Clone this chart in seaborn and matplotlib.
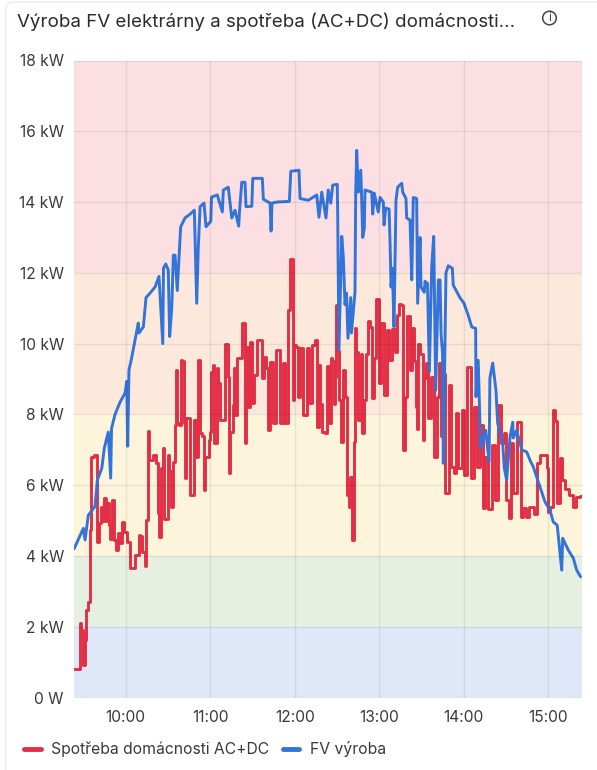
"""Vyroba FV elektrarny a spotreba domacnosti - prubeh dne"""

import pandas as pd
import seaborn as sns
import matplotlib.pyplot as plt
from matplotlib.patches import Circle, FancyBboxPatch

# cas v minutach od 9:00, hodnoty v kW
FV_MIN = [23.3, 29.9, 31.1, 33.4, 38.2, 39.8, 43, 44.8, 47.6, 49.3, 49.9, 52.4, 56, 59.5, 60.7, 61.4, 62.3,
          64.3, 66.6, 68.9, 69.4, 72.5, 74.4, 77.3, 80.8, 83.6, 86.3, 86.8, 88.4, 90.2, 91.2, 92.7, 93.8, 95,
          96.6, 98.1, 99, 102.1, 105.7, 108.7, 110.4, 111.5, 112.8, 115.6, 117, 120.4, 120.9, 125, 128.6,
          129.3, 132.8, 135.3, 137.6, 140.2, 140.9, 142.4, 144.7, 145.4, 149.5, 150.2, 157, 157.7, 162.5,
          163.2, 163.9, 167.2, 176.2, 177.2, 183, 183.8, 189.6, 195.6, 197.2, 199.2, 202.2, 203.8, 205.6,
          207, 210.2, 210.5, 211.4, 213.4, 214.5, 215.7, 216.8, 217.8, 219.8, 220.3, 222.8, 223.3, 224,
          225.2, 226.9, 227.4, 228.3, 229.4, 229.9, 234.7, 235.4, 236.5, 239.3, 240.6, 242.9, 243.4, 244.6,
          247, 247.7, 248.4, 249.3, 250.5, 251.9, 253.1, 256, 256.7, 259, 259.5, 261.9, 263.1, 264.2, 266.6,
          267.3, 269, 269.7, 272, 272.5, 274.3, 275.6, 277.3, 278.7, 280.1, 282, 283.2, 283.9, 285, 285.5,
          287.4, 289, 291.9, 292.6, 297.3, 300.2, 303.2, 305.7, 308.5, 308.7, 310.3, 311.5, 312, 315.6, 318,
          318.6, 320.6, 322.9, 324.1, 327.7, 328.8, 330.5, 332.9, 334.8, 335.2, 337.6, 341.2, 344.7, 347.6,
          349.4, 354.2, 357.7, 361.2, 363.6, 366.4, 367.8, 369.6, 370.3, 374.2, 377.8, 380.2, 383]
FV_KW = [4.2, 4.78, 4.45, 5.15, 5.4, 6.14, 6.48, 7.05, 7.5, 6.2, 7.6, 8, 8.35, 8.6, 8.93, 7.1, 9.25,
         9.62, 10.1, 10.58, 10.3, 10.47, 11.3, 11.43, 11.6, 11.9, 10, 12.13, 12.25, 12.08, 10.2, 11.03, 12.5, 12.5,
         11.5, 12.6, 13.3, 13.55, 13.66, 13.77, 11.14, 12.7, 13.87, 13.97, 13.3, 13.46, 14.14, 14.2, 13.72,
         14.34, 14.42, 13.55, 13.77, 13.32, 13.8, 14.56, 14.56, 13.87, 13.88, 14.67, 14.67, 14.08, 13.97,
         13.18, 13.97, 14, 14.02, 14.87, 14.9, 14.1, 14.05, 14.2, 13.57, 14.28, 13.55, 14.34, 13.97,
         14.48, 14.5, 13.72, 9.82, 13.03, 12.44, 11.1, 11.43, 10.15, 11.3, 10.3, 11.45, 14.28, 15.46,
         14.28, 14.9, 14.28, 13, 13.26, 14.34, 14.28, 13.66, 14.25, 13.72, 14.13, 14, 13.35, 13.83,
         13.8, 12.84, 11.6, 12.13, 10.47, 14.05, 14.42, 14.53, 14.28, 14.1, 13.55, 13.49, 11.8, 14.13, 14.1,
         11.14, 13, 11.6, 11.45, 11.76, 11.7, 9.2, 12.2, 13.03, 8.68, 11.8, 11.8, 10.3, 9.7, 6.62,
         12, 12.2, 12.13, 11.65, 11.3, 11.14, 10.8, 10.47, 10.43, 8.5, 9.53, 7.75, 7.04, 7.55, 6.66,
         9.03, 9.45, 8.68, 7.75, 7.18, 6.48, 6.14, 7.36, 7.78, 7.33, 7.55, 7, 6.94, 6.66,
         6.52, 5.95, 5.53, 5.3, 4.96, 4.87, 4.31, 3.6, 4.5, 4.17, 3.94, 3.6, 3.41]

SPOTREBA_MIN = [23, 27.6, 28.1, 29, 30.2, 31.8, 32.3, 33.4, 34.6, 35.1, 35.9, 38.9, 39.8, 41.8, 43, 43.9, 45.3,
                46, 47.2, 48.4, 49.6, 51.2, 51.9, 54, 55, 56.4, 57.9, 60, 62.3, 64.3, 68.9, 69.7, 71.2, 72.5,
                74.4, 74.9, 76.3, 77.3, 80.8, 82.4, 83.4, 84.1, 85.6, 86.7, 88.1, 89.3, 90.2, 91.5, 93.4, 94.3,
                95.5, 96.2, 97.1, 98.5, 99.8, 100.7, 101.4, 102.1, 103.7, 104.9, 107, 107.8, 109.2, 110.4,
                112.3, 113.3, 115, 115.5, 117, 118.5, 119.1, 120.4, 121.1, 122.2, 123.5, 124.8, 125.1, 126.2,
                128.2, 129.8, 130.5, 131.9, 132.8, 133.3, 135.3, 136.4, 137.1, 138.3, 139.9, 141.8, 143.1, 144,
                145.2, 145.9, 147.1, 149, 150.6, 151.8, 154.2, 156.1, 157.3, 159, 160.3, 161.7, 163.7, 166,
                167.7, 168.9, 170.8, 172, 174.3, 176.2, 177.2, 178.1, 179, 180.2, 181.6, 183.3, 184.3, 187.3,
                189.6, 191.3, 193.2, 195.1, 196.3, 197.5, 199, 200.3, 202.7, 203.1, 205.1, 206.3, 207.2, 207.9,
                208.6, 209.8, 210.8, 212.2, 213.4, 215, 216.4, 218, 218.7, 220.4, 221.6, 222.8, 223.3, 224.4,
                225.9, 227.6, 228.3, 229.9, 231.1, 232.8, 234.7, 235.4, 237, 238.2, 239.5, 240.6, 242.5, 244.6,
                246, 248.4, 249.6, 252.4, 253.4, 254.8, 256.2, 257.1, 259, 260, 261.2, 262.4, 263.5, 265.4,
                266.5, 267.3, 268.3, 269.7, 271.8, 272.5, 274.1, 274.9, 276.7, 277.3, 280.4, 281.3, 283.2,
                284.3, 285.1, 288.4, 290.3, 292, 293.9, 295.2, 297.3, 299.7, 301.4, 303.7, 306.1, 308, 310.9,
                312.8, 314.5, 316.4, 318.8, 321.1, 323.5, 325.9, 327.6, 329.4, 331, 332.9, 334.1, 336.5, 338.8,
                340, 340.7, 343.5, 345, 348.2, 351.3, 352.9, 355.3, 358.4, 359.3, 360, 362.4, 364.3, 365.8,
                367.1, 369.6, 370.7, 373.1, 376.7, 378.6, 381.4, 383.4]
SPOTREBA_KW = [0.81, 0.81, 2.1, 1.9, 0.92, 1.62, 2.47, 2.7, 2.7, 4.73, 6.8, 6.85, 4.39, 4.93, 5.38, 5, 5.63,
               5, 5.49, 4.87, 4.47, 5.58, 4.45, 4.17, 4.64, 4.36, 4.96, 4.68, 4.39, 3.66, 4.03, 4.59, 4.55, 4.11,
               3.71, 5.01, 7.53, 6.71, 6.85, 6.62, 5.2, 4.53, 6.48, 7.05, 5.04, 5.04, 6.85, 6.4, 5.38, 6.66,
               7.7, 9.25, 7.75, 7.7, 9.53, 9.5, 7.75, 6.2, 7.9, 7.9, 5.72, 5.72, 7.84, 6.8,
               9.53, 7.47, 7.4, 5.86, 6.8, 6.8, 7.27, 7.5, 9.2, 9.39, 7.18, 7.18, 9.3, 8.9,
               7.84, 7.84, 10, 10, 9.05, 6.33, 7.5, 8.26, 9.3, 7.97, 9.58, 9.6, 10.58, 10.58,
               7.18, 9.9, 8.2, 10.04, 8.32, 9.1, 10.1, 10.1, 9.03, 9.62, 9.3, 7.55, 9.48, 7.75,
               9.82, 9.82, 7.75, 9.44, 7.75, 10.95, 12.39, 12.39, 8.4, 9.95, 9.9, 8.5, 9.87, 7.97,
               9.87, 8.32, 9.95, 10.1, 7.64, 9.4, 8.3, 7.5, 7.47, 9.36, 7.75, 9.58, 9.5, 8.3,
               9.05, 11.08, 9.8, 8.4, 7.22, 9.25, 8.49, 5.72, 5.38, 6.23, 4.45, 7.22, 10.43, 9.76,
               7.84, 9.7, 7.47, 8.4, 9.7, 10.63, 10.47, 8.46, 9.6, 11.25, 11.25, 8.88, 10.58, 8.54,
               10.38, 9.53, 10.4, 9.76, 10.8, 11.11, 11.1, 7, 8.5, 10.78, 10.78, 9.25, 10.43, 9.5,
               8.2, 7.6, 10, 9.7, 7.27, 9.03, 9.44, 7.89, 7.89, 9.05, 6.8, 8.5, 9.44,
               7.4, 9.15, 5.77, 8.83, 6.52, 6.33, 8.03, 6.48, 8.12, 6.28, 9.34, 6.2, 8.2, 6.52,
               7.7, 5.35, 6.8, 5.32, 7.13, 5.58, 8.26, 7.2, 7.47, 5.58, 5.07, 7.2, 5.77, 7.78,
               7.78, 5.1, 5.35, 5.1, 5.38, 5.18, 6.62, 6.85, 6.85, 6.48, 5.24, 5.38, 8.12, 7.8,
               5.49, 6.76, 6.14, 5.9, 5.72, 5.38, 5.66, 5.68]

HODINY = [60, 120, 180, 240, 300, 360]
HODINY_TXT = ['10:00', '11:00', '12:00', '13:00', '14:00', '15:00']
OSA_Y = [0, 2, 4, 6, 8, 10, 12, 14, 16, 18]
OSA_Y_TXT = ['0 W', '2 kW', '4 kW', '6 kW', '8 kW', '10 kW', '12 kW', '14 kW', '16 kW', '18 kW']
PASMA = [(0, 2, '#dfe8f8'), (2, 4, '#e5efe2'), (4, 8, '#fcf5dc'), (8, 12, '#fde9db'), (12, 18, '#fbdfe2')]

SPOTREBA = 'Spotřeba domácnosti AC+DC'
FV = 'FV výroba'

sns.set_style("white")
plt.rcParams['font.family'] = ['Inter', 'DejaVu Sans']

spotreba_df = pd.DataFrame({'minuta': SPOTREBA_MIN, 'kW': SPOTREBA_KW})
fv_df = pd.DataFrame({'minuta': FV_MIN, 'kW': FV_KW})

W, H = 597, 770
fig = plt.figure(figsize=(W / 100, H / 100), dpi=100)
ax = fig.add_axes([73.5 / W, 1 - 697.5 / H, 508.5 / W, 637 / H])

for od, do, barva in PASMA:
    ax.axhspan(od, do, color=barva, lw=0, zorder=0)

sns.lineplot(data=spotreba_df, x='minuta', y='kW', color='#e32f45', label=SPOTREBA, estimator=None, sort=False,
             errorbar=None, drawstyle='steps-mid', linewidth=2.1, ax=ax)
sns.lineplot(data=fv_df, x='minuta', y='kW', color='#3274d9', label=FV, estimator=None, sort=False,
             errorbar=None, linewidth=2.1, ax=ax)

ax.set_xlim(22.9, 384)
ax.set_ylim(0, 18)
ax.set_xticks(HODINY, HODINY_TXT)
ax.set_yticks(OSA_Y, OSA_Y_TXT)
ax.set_xlabel('')
ax.set_ylabel('')
ax.grid(True, color='black', alpha=0.07, lw=1)
ax.set_axisbelow(False)
ax.tick_params(length=0, labelsize=11.2, labelcolor='#3a3a3a')
ax.tick_params(axis='x', pad=9)
ax.tick_params(axis='y', pad=7)
for s in ax.spines.values():
    s.set_visible(False)
for line in ax.get_xgridlines() + ax.get_ygridlines():
    line.set_zorder(1.5)

sns.move_legend(ax, 'center left', bbox_to_anchor=(-0.125, -0.0815), ncol=2, frameon=False, title=None,
                fontsize=11.3, labelcolor='#3a3a3a', handlelength=1.05, handletextpad=0.65, columnspacing=0.9)
for h in ax.get_legend().get_lines():
    h.set_linewidth(3.5)
    h.set_solid_capstyle('round')

# karta, nadpis a ikona
fig.patches.append(FancyBboxPatch((5.5 / W, -0.05), 700 / W, 1.05 - 2 / H,
                                  boxstyle='round,pad=0,rounding_size=0.012', transform=fig.transFigure,
                                  fc='none', ec='#ececec', lw=1))
fig.text(17 / W, 1 - 22 / H, 'Výroba FV elektrárny a spotřeba (AC+DC) domácnosti...', fontsize=13.5,
         color='#2b2b2b', va='center', ha='left')
fig.patches.append(Circle((549.5, H - 18), 6.8, transform=None, fc='none', ec='#444444', lw=1.1))
fig.text(549.5 / W, 1 - 18 / H, 'i', fontsize=8.5, color='#444444', va='center', ha='center')

plt.savefig('out.png', dpi=100)
plt.close()
